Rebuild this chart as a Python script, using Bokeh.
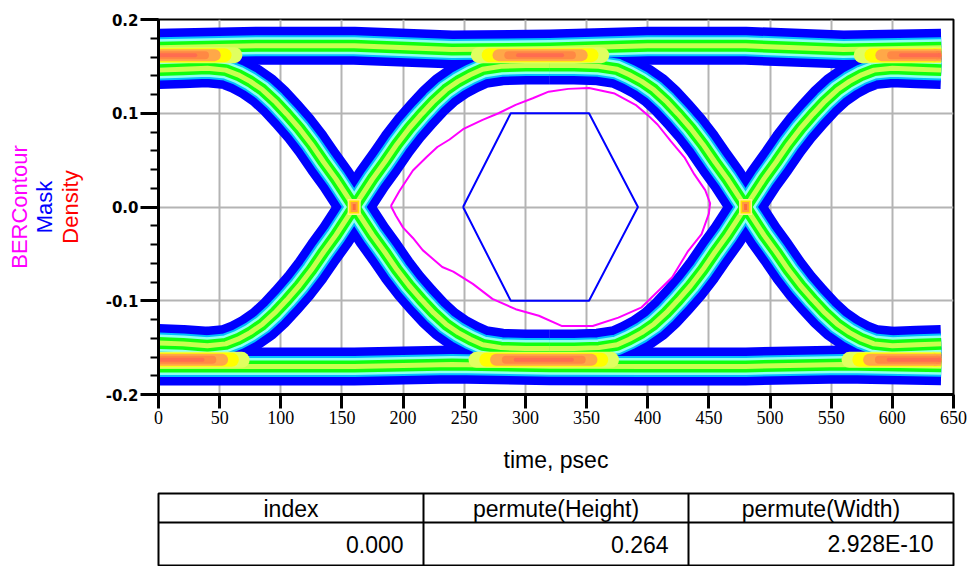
import numpy as np
from bokeh.plotting import figure
from bokeh.models import Range1d, FixedTicker, NumeralTickFormatter, LinearAxis
from bokeh.layouts import column
from bokeh.embed import file_html
from bokeh.resources import INLINE
from bokeh.core.properties import value

# ---------------- data ----------------
x_ticks = [0, 50, 100, 150, 200, 250, 300, 350, 400, 450, 500, 550, 600, 650]
y_ticks = [-0.2, -0.1, 0.0, 0.1, 0.2]
y_minor = [-0.2, -0.18, -0.16, -0.14, -0.12, -0.1, -0.08, -0.06, -0.04, -0.02, 0.0,
           0.02, 0.04, 0.06, 0.08, 0.1, 0.12, 0.14, 0.16, 0.18, 0.2]

# rails (time in psec, voltage in V)
rail_t = [0, 80, 160, 240, 320, 400, 480, 560, 640]
top_rail_v = [0.170, 0.172, 0.172, 0.168, 0.169, 0.172, 0.172, 0.168, 0.170]
bot_rail_v = [-0.170, -0.170, -0.170, -0.168, -0.170, -0.170, -0.170, -0.168, -0.170]

# transitions, first unit interval
trans1_t = [0, 20, 40, 55, 65, 75, 85, 95, 105, 115, 125, 135, 145, 155,
            165, 175, 185, 195, 205, 215, 225, 235, 245, 255, 265, 280, 300, 320]
fall1_v = [0.146, 0.147, 0.148, 0.146, 0.141, 0.134, 0.125, 0.113, 0.099, 0.084, 0.067, 0.048, 0.030, 0.010,
           -0.010, -0.030, -0.048, -0.067, -0.084, -0.099, -0.113, -0.125, -0.134, -0.141, -0.147, -0.150, -0.151, -0.151]
rise1_v = [-0.145, -0.146, -0.148, -0.146, -0.141, -0.134, -0.125, -0.113, -0.099, -0.084, -0.067, -0.048, -0.030, -0.010,
           0.010, 0.030, 0.048, 0.067, 0.084, 0.099, 0.113, 0.125, 0.134, 0.141, 0.147, 0.150, 0.151, 0.151]
# transitions, second unit interval
trans2_t = [320, 340, 360, 375, 385, 395, 405, 415, 425, 435, 445, 455, 465, 475,
            485, 495, 505, 515, 525, 535, 545, 555, 565, 575, 585, 600, 620, 640]
fall2_v = [0.151, 0.151, 0.150, 0.147, 0.141, 0.134, 0.125, 0.113, 0.099, 0.084, 0.067, 0.048, 0.030, 0.010,
           -0.010, -0.030, -0.048, -0.067, -0.084, -0.099, -0.113, -0.125, -0.134, -0.141, -0.146, -0.148, -0.147, -0.146]
rise2_v = [-0.151, -0.151, -0.150, -0.147, -0.141, -0.134, -0.125, -0.113, -0.099, -0.084, -0.067, -0.048, -0.030, -0.010,
           0.010, 0.030, 0.048, 0.067, 0.084, 0.099, 0.113, 0.125, 0.134, 0.141, 0.146, 0.148, 0.147, 0.146]

# high-density zones on the rails (start, end, level)
hot_t0 = [0, 262, 575, 0, 260, 565]
hot_t1 = [62, 362, 640, 68, 370, 640]
hot_v = [0.162, 0.162, 0.162, -0.163, -0.163, -0.163]

# crossing points
cross_t = [160, 480]
cross_v = [0.0, 0.0]

# mask
mask_t = [249, 288, 352, 392, 352, 288, 249]
mask_v = [0.0, 0.1, 0.1, 0.0, -0.1, -0.1, 0.0]

# BER contour
ber_t = [190, 197, 208, 219, 228, 238, 249, 265, 278, 292, 306, 319, 335, 352, 373, 390, 400, 408,
         419, 430, 438, 447, 451, 450, 444, 433, 420, 409, 395, 376, 355, 330, 311, 292, 273, 257,
         241, 232, 216, 208, 200, 194, 190]
ber_v = [0.001, 0.017, 0.039, 0.053, 0.064, 0.072, 0.083, 0.093, 0.100, 0.109, 0.116, 0.123, 0.126, 0.127,
         0.121, 0.109, 0.098, 0.088, 0.070, 0.053, 0.035, 0.018, 0.004, -0.007, -0.029, -0.047, -0.075,
         -0.089, -0.107, -0.118, -0.127, -0.127, -0.116, -0.109, -0.098, -0.082, -0.069, -0.064, -0.046,
         -0.033, -0.022, -0.009, 0.001]

# table
table_headers = ["index", "permute(Height)", "permute(Width)"]
table_values = ["0.000", "0.264", "2.928E-10"]

# ---------------- styling ----------------
band_colors = ["#0000FF", "#00C0FF", "#90FFF0", "#10FF10", "#C8FF50"]
band_widths = [38, 21, 17, 12, 5]
hot_colors = ["#E0FF60", "#FFFF00", "#FFA848", "#FF8844", "#FF6C50"]
hot_widths = [16, 14, 12, 8, 4]
hot_taper = 8
cross_colors = ["#FFF08A", "#FFE000", "#FF9A40", "#FF6A3A"]
cross_w = [13, 10, 7, 3]
cross_h = [16, 13, 10, 6]
PX_PER_PS = 799 / 650.0

FONT = "Liberation Sans"

p = figure(width=969, height=484, x_range=Range1d(0, 650), y_range=Range1d(-0.2, 0.2),
           output_backend="svg", toolbar_location=None,
           min_border_left=154, min_border_right=16, min_border_top=19, min_border_bottom=90)
p.background_fill_color = "white"
p.border_fill_color = "white"
p.outline_line_color = "black"
p.outline_line_width = 2

# axes
p.xaxis.ticker = FixedTicker(ticks=x_ticks)
p.yaxis.ticker = FixedTicker(ticks=y_ticks, minor_ticks=y_minor)
p.yaxis.formatter = NumeralTickFormatter(format="0.0")
for ax in (p.xaxis, p.yaxis):
    ax.axis_line_color = "black"
    ax.axis_line_width = 3
    ax.major_tick_line_color = "black"
    ax.major_tick_line_width = 3
    ax.major_tick_in = 0
    ax.minor_tick_in = 0
    ax.major_label_text_color = "black"
p.xaxis.major_tick_out = 14
p.xaxis.minor_tick_line_color = None
p.xaxis.major_label_text_font = "Liberation Sans Narrow"
p.xaxis.major_label_text_font_size = "18px"
p.xaxis.major_label_standoff = 2
p.xaxis.axis_label = "time, psec"
p.xaxis.axis_label_text_font = FONT
p.xaxis.axis_label_text_font_size = "23px"
p.xaxis.axis_label_text_font_style = "normal"
p.xaxis.axis_label_text_color = "black"
p.xaxis.axis_label_standoff = 20

p.yaxis.major_tick_out = 18
p.yaxis.minor_tick_out = 8
p.yaxis.minor_tick_line_color = "black"
p.yaxis.minor_tick_line_width = 2
p.yaxis.major_label_text_font = "DejaVu Sans"
p.yaxis.major_label_text_font_style = "bold"
p.yaxis.major_label_text_font_size = "15px"
p.yaxis.major_label_standoff = 2
p.yaxis.axis_label = "Density"
p.yaxis.axis_label_text_color = "#FF0000"
p.yaxis.axis_label_text_font = FONT
p.yaxis.axis_label_text_font_size = "22px"
p.yaxis.axis_label_text_font_style = "normal"
p.yaxis.axis_label_standoff = 20

for txt, col, st in [("Mask", "#0000FF", -2), ("BERContour", "#FF00FF", -3)]:
    ax = LinearAxis(ticker=FixedTicker(ticks=[], minor_ticks=[]), axis_label=txt,
                    axis_line_color=None, major_tick_line_color=None, minor_tick_line_color=None,
                    major_tick_out=0, minor_tick_out=0, major_label_standoff=0,
                    axis_label_standoff=st, axis_label_text_color=col, axis_label_text_font=FONT,
                    axis_label_text_font_size="22px", axis_label_text_font_style="normal")
    p.add_layout(ax, "left")

p.grid.grid_line_color = "#B4B4B4"
p.grid.grid_line_width = 2

# density bands
paths_x = [rail_t, rail_t, trans1_t, trans1_t, trans2_t, trans2_t]
paths_y = [top_rail_v, bot_rail_v, fall1_v, rise1_v, fall2_v, rise2_v]
for c, w in zip(band_colors, band_widths):
    p.multi_line(xs=paths_x, ys=paths_y, line_color=c, line_width=w,
                 line_cap="butt", line_join="round")

# high-density cores (rounded ends inside the plot, kept within the rail ends)
for k, (c, w) in enumerate(zip(hot_colors, hot_widths)):
    xs, ys = [], []
    for a, b, v in zip(hot_t0, hot_t1, hot_v):
        a2 = a if a == 0 else a + k * hot_taper
        b2 = b - (w / 2.0) / PX_PER_PS if b == 640 else b - k * hot_taper
        xs.append([a2, b2])
        ys.append([v, v])
    p.multi_line(xs=xs, ys=ys, line_color=c, line_width=w, line_cap="round")
    p.multi_line(xs=[[b - (w / 2.0) / PX_PER_PS - 1, b] for a, b, v in zip(hot_t0, hot_t1, hot_v) if b == 640],
                 ys=[[v, v] for a, b, v in zip(hot_t0, hot_t1, hot_v) if b == 640],
                 line_color=c, line_width=w, line_cap="butt")

for c, w, h in zip(cross_colors, cross_w, cross_h):
    p.rect(x=cross_t, y=cross_v, width=w, height=h, width_units="screen", height_units="screen",
           fill_color=c, line_color=None)

# mask and BER contour
p.line(mask_t, mask_v, line_color="#0000FF", line_width=2)
p.line(ber_t, ber_v, line_color="#FF00FF", line_width=2)

# ---------------- table ----------------
t = figure(width=969, height=82, x_range=Range1d(0, 799), y_range=Range1d(72, 0),
           output_backend="svg", toolbar_location=None, x_axis_location=None, y_axis_location=None,
           min_border_left=158, min_border_right=12, min_border_top=9, min_border_bottom=1)
t.grid.visible = False
t.outline_line_color = "black"
t.outline_line_width = 2
colw = 799 / 3.0
row1 = 29
t.segment(x0=[colw, 2 * colw, 0], y0=[0, 0, row1], x1=[colw, 2 * colw, 799], y1=[72, 72, row1],
          line_color="black", line_width=2)
t.text(x=[colw * (i + 0.5) for i in range(3)], y=[row1 / 2.0 + 1] * 3, text=table_headers,
       text_align="center", text_baseline="middle", text_font=value(FONT), text_font_size="23px",
       text_color="black")
t.text(x=[colw * (i + 1) - 20 for i in range(3)], y=[(row1 + 72) / 2.0] * 3, text=table_values,
       text_align="right", text_baseline="middle", text_font=value(FONT), text_font_size="23px",
       text_color="black")

layout = column(p, t, spacing=0)
open("out.html", "w").write(file_html(layout, INLINE))
